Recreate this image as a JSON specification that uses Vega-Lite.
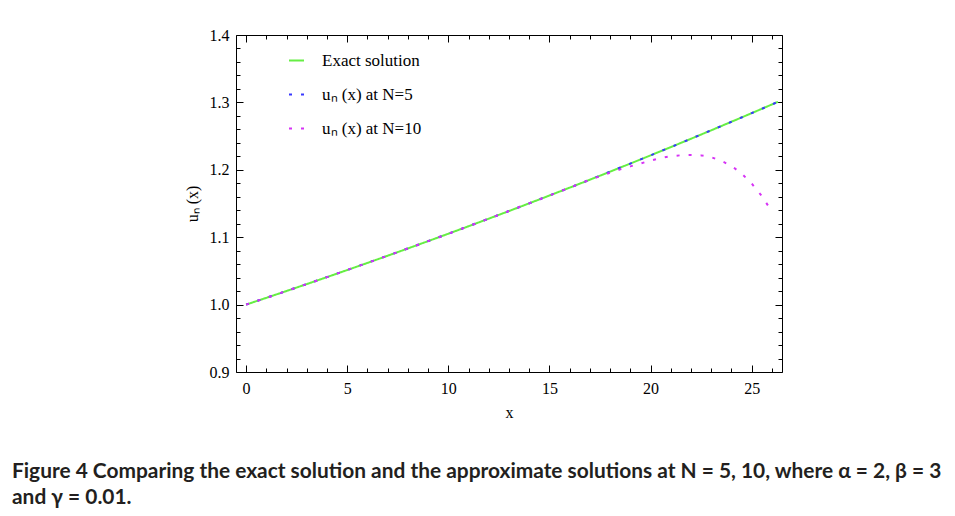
{
  "$schema": "https://vega.github.io/schema/vega-lite/v6.json",
  "width": 546,
  "height": 337,
  "autosize": {"type": "none"},
  "padding": {"left": 236, "top": 35, "right": 173, "bottom": 144},
  "background": "white",
  "config": {
    "view": {"stroke": null},
    "font": "Liberation Serif",
    "style": {
      "guide-label": {"font": "Liberation Serif"},
      "guide-title": {"font": "Liberation Serif"}
    },
    "title": {"font": "Lato", "fontSize": 20.9, "fontWeight": "bold", "color": "#231f20"},
    "axis": {
      "grid": false,
      "domainColor": "#000000",
      "tickColor": "#000000",
      "labelColor": "#000000",
      "titleColor": "#000000",
      "labelFont": "Liberation Serif",
      "titleFont": "Liberation Serif",
      "labelFontSize": 16,
      "titleFontSize": 16,
      "titleFontWeight": "normal",
      "labelFlush": false,
      "labelOverlap": false
    },
    "axisY": {"labelFont": "Liberation Serif", "titleFont": "Liberation Serif"},
    "axisLeft": {"labelFont": "Liberation Serif", "titleFont": "Liberation Serif"},
    "legend": {
      "orient": "none",
      "legendX": 52,
      "legendY": 17,
      "symbolType": "stroke",
      "symbolSize": 225,
      "symbolStrokeWidth": 2,
      "labelFont": "Liberation Serif",
      "labelFontSize": 17,
      "labelColor": "#000000",
      "labelOffset": 17,
      "rowPadding": 16,
      "padding": 0,
      "title": null
    }
  },
  "title": {
    "text": [
      "Figure 4  Comparing the exact solution and the approximate solutions at N = 5, 10, where α = 2, β = 3",
      "and γ = 0.01."
    ],
    "orient": "bottom",
    "anchor": "start",
    "frame": "group",
    "dx": -224,
    "offset": 41,
    "lineHeight": 26
  },
  "data": {
    "values": [
      {"x": 0, "u": 1.0, "series": "Exact solution"},
      {"x": 1, "u": 1.01005, "series": "Exact solution"},
      {"x": 2, "u": 1.0202, "series": "Exact solution"},
      {"x": 3, "u": 1.03045, "series": "Exact solution"},
      {"x": 4, "u": 1.04081, "series": "Exact solution"},
      {"x": 5, "u": 1.05127, "series": "Exact solution"},
      {"x": 6, "u": 1.06184, "series": "Exact solution"},
      {"x": 7, "u": 1.07251, "series": "Exact solution"},
      {"x": 8, "u": 1.08329, "series": "Exact solution"},
      {"x": 9, "u": 1.09417, "series": "Exact solution"},
      {"x": 10, "u": 1.10517, "series": "Exact solution"},
      {"x": 11, "u": 1.11628, "series": "Exact solution"},
      {"x": 12, "u": 1.1275, "series": "Exact solution"},
      {"x": 13, "u": 1.13883, "series": "Exact solution"},
      {"x": 14, "u": 1.15027, "series": "Exact solution"},
      {"x": 15, "u": 1.16183, "series": "Exact solution"},
      {"x": 16, "u": 1.17351, "series": "Exact solution"},
      {"x": 17, "u": 1.1853, "series": "Exact solution"},
      {"x": 18, "u": 1.19722, "series": "Exact solution"},
      {"x": 19, "u": 1.20925, "series": "Exact solution"},
      {"x": 20, "u": 1.2214, "series": "Exact solution"},
      {"x": 21, "u": 1.23368, "series": "Exact solution"},
      {"x": 22, "u": 1.24608, "series": "Exact solution"},
      {"x": 23, "u": 1.2586, "series": "Exact solution"},
      {"x": 24, "u": 1.27125, "series": "Exact solution"},
      {"x": 25, "u": 1.28403, "series": "Exact solution"},
      {"x": 26, "u": 1.29693, "series": "Exact solution"},
      {"x": 26.3, "u": 1.30084, "series": "Exact solution"},
      {"x": 0, "u": 1.0, "series": "uₙ (x) at N=5"},
      {"x": 1, "u": 1.01005, "series": "uₙ (x) at N=5"},
      {"x": 2, "u": 1.0202, "series": "uₙ (x) at N=5"},
      {"x": 3, "u": 1.03045, "series": "uₙ (x) at N=5"},
      {"x": 4, "u": 1.04081, "series": "uₙ (x) at N=5"},
      {"x": 5, "u": 1.05127, "series": "uₙ (x) at N=5"},
      {"x": 6, "u": 1.06184, "series": "uₙ (x) at N=5"},
      {"x": 7, "u": 1.07251, "series": "uₙ (x) at N=5"},
      {"x": 8, "u": 1.08329, "series": "uₙ (x) at N=5"},
      {"x": 9, "u": 1.09417, "series": "uₙ (x) at N=5"},
      {"x": 10, "u": 1.10517, "series": "uₙ (x) at N=5"},
      {"x": 11, "u": 1.11628, "series": "uₙ (x) at N=5"},
      {"x": 12, "u": 1.1275, "series": "uₙ (x) at N=5"},
      {"x": 13, "u": 1.13883, "series": "uₙ (x) at N=5"},
      {"x": 14, "u": 1.15027, "series": "uₙ (x) at N=5"},
      {"x": 15, "u": 1.16183, "series": "uₙ (x) at N=5"},
      {"x": 16, "u": 1.17351, "series": "uₙ (x) at N=5"},
      {"x": 17, "u": 1.1853, "series": "uₙ (x) at N=5"},
      {"x": 18, "u": 1.19722, "series": "uₙ (x) at N=5"},
      {"x": 19, "u": 1.20925, "series": "uₙ (x) at N=5"},
      {"x": 20, "u": 1.2214, "series": "uₙ (x) at N=5"},
      {"x": 21, "u": 1.23368, "series": "uₙ (x) at N=5"},
      {"x": 22, "u": 1.24608, "series": "uₙ (x) at N=5"},
      {"x": 23, "u": 1.2586, "series": "uₙ (x) at N=5"},
      {"x": 24, "u": 1.27125, "series": "uₙ (x) at N=5"},
      {"x": 25, "u": 1.28403, "series": "uₙ (x) at N=5"},
      {"x": 26, "u": 1.29693, "series": "uₙ (x) at N=5"},
      {"x": 26.3, "u": 1.30084, "series": "uₙ (x) at N=5"},
      {"x": 0, "u": 1.0, "series": "uₙ (x) at N=10"},
      {"x": 1, "u": 1.01005, "series": "uₙ (x) at N=10"},
      {"x": 2, "u": 1.0202, "series": "uₙ (x) at N=10"},
      {"x": 3, "u": 1.03045, "series": "uₙ (x) at N=10"},
      {"x": 4, "u": 1.04081, "series": "uₙ (x) at N=10"},
      {"x": 5, "u": 1.05127, "series": "uₙ (x) at N=10"},
      {"x": 6, "u": 1.06184, "series": "uₙ (x) at N=10"},
      {"x": 7, "u": 1.07251, "series": "uₙ (x) at N=10"},
      {"x": 8, "u": 1.08329, "series": "uₙ (x) at N=10"},
      {"x": 9, "u": 1.09417, "series": "uₙ (x) at N=10"},
      {"x": 10, "u": 1.10517, "series": "uₙ (x) at N=10"},
      {"x": 11, "u": 1.11628, "series": "uₙ (x) at N=10"},
      {"x": 12, "u": 1.1275, "series": "uₙ (x) at N=10"},
      {"x": 13, "u": 1.13883, "series": "uₙ (x) at N=10"},
      {"x": 14, "u": 1.15027, "series": "uₙ (x) at N=10"},
      {"x": 15, "u": 1.16183, "series": "uₙ (x) at N=10"},
      {"x": 16, "u": 1.17351, "series": "uₙ (x) at N=10"},
      {"x": 17, "u": 1.1853, "series": "uₙ (x) at N=10"},
      {"x": 18, "u": 1.1957, "series": "uₙ (x) at N=10"},
      {"x": 18.5, "u": 1.2006, "series": "uₙ (x) at N=10"},
      {"x": 19, "u": 1.2051, "series": "uₙ (x) at N=10"},
      {"x": 19.5, "u": 1.2094, "series": "uₙ (x) at N=10"},
      {"x": 20, "u": 1.2137, "series": "uₙ (x) at N=10"},
      {"x": 20.5, "u": 1.2174, "series": "uₙ (x) at N=10"},
      {"x": 21, "u": 1.2201, "series": "uₙ (x) at N=10"},
      {"x": 21.5, "u": 1.2216, "series": "uₙ (x) at N=10"},
      {"x": 22, "u": 1.222, "series": "uₙ (x) at N=10"},
      {"x": 22.5, "u": 1.2214, "series": "uₙ (x) at N=10"},
      {"x": 23, "u": 1.2186, "series": "uₙ (x) at N=10"},
      {"x": 23.5, "u": 1.2133, "series": "uₙ (x) at N=10"},
      {"x": 24, "u": 1.2058, "series": "uₙ (x) at N=10"},
      {"x": 24.5, "u": 1.1946, "series": "uₙ (x) at N=10"},
      {"x": 25, "u": 1.1796, "series": "uₙ (x) at N=10"},
      {"x": 25.5, "u": 1.1612, "series": "uₙ (x) at N=10"},
      {"x": 26, "u": 1.138, "series": "uₙ (x) at N=10"}
    ]
  },
  "layer": [
    {
      "transform": [{"filter": "datum.series === 'Exact solution'"}],
      "mark": {"type": "line", "strokeWidth": 2},
      "encoding": {
        "x": {
          "field": "x", "type": "quantitative",
          "scale": {"domain": [-0.5, 26.5], "nice": false, "zero": false},
          "axis": {
            "orient": "bottom",
            "values": [0,1,2,3,4,5,6,7,8,9,10,11,12,13,14,15,16,17,18,19,20,21,22,23,24,25,26],
            "format": "d",
            "labelExpr": "datum.value % 5 === 0 ? datum.label : ''",
            "tickSize": {"condition": {"test": "datum.value % 5 === 0", "value": -7}, "value": -4},
            "labelPadding": 15,
            "title": "x",
            "titlePadding": 5
          }
        },
        "y": {
          "field": "u", "type": "quantitative",
          "scale": {"domain": [0.9, 1.4], "nice": false, "zero": false},
          "axis": {
            "orient": "left",
            "values": [0.9,0.92,0.94,0.96,0.98,1.0,1.02,1.04,1.06,1.08,1.1,1.12,1.14,1.16,1.18,1.2,1.22,1.24,1.26,1.28,1.3,1.32,1.34,1.36,1.38,1.4],
            "format": ".1f",
            "labelExpr": "abs(datum.value * 10 - round(datum.value * 10)) < 0.001 ? datum.label : ''",
            "tickSize": {"condition": {"test": "abs(datum.value * 10 - round(datum.value * 10)) < 0.001", "value": -7}, "value": -4},
            "labelPadding": 14,
            "title": "uₙ (x)",
            "titlePadding": 9
          }
        },
        "color": {
          "field": "series", "type": "nominal",
          "scale": {"domain": ["Exact solution", "uₙ (x) at N=5", "uₙ (x) at N=10"], "range": ["#66ee44", "#3838ff", "#d633f5"]}
        },
        "strokeDash": {
          "field": "series", "type": "nominal",
          "scale": {"domain": ["Exact solution", "uₙ (x) at N=5", "uₙ (x) at N=10"], "range": [[1, 0], [3, 9], [3, 9]]}
        }
      }
    },
    {
      "transform": [{"filter": "datum.series !== 'Exact solution'"}],
      "mark": {"type": "line", "strokeWidth": 2},
      "encoding": {
        "x": {
          "field": "x", "type": "quantitative",
          "scale": {"domain": [-0.5, 26.5], "nice": false, "zero": false},
          "axis": {
            "orient": "top",
            "values": [0,1,2,3,4,5,6,7,8,9,10,11,12,13,14,15,16,17,18,19,20,21,22,23,24,25,26],
            "labels": false,
            "tickSize": {"condition": {"test": "datum.value % 5 === 0", "value": -7}, "value": -4},
            "title": null
          }
        },
        "y": {
          "field": "u", "type": "quantitative",
          "scale": {"domain": [0.9, 1.4], "nice": false, "zero": false},
          "axis": {
            "orient": "right",
            "values": [0.9,0.92,0.94,0.96,0.98,1.0,1.02,1.04,1.06,1.08,1.1,1.12,1.14,1.16,1.18,1.2,1.22,1.24,1.26,1.28,1.3,1.32,1.34,1.36,1.38,1.4],
            "labels": false,
            "tickSize": {"condition": {"test": "abs(datum.value * 10 - round(datum.value * 10)) < 0.001", "value": -7}, "value": -4},
            "title": null
          }
        },
        "color": {
          "field": "series", "type": "nominal",
          "scale": {"domain": ["Exact solution", "uₙ (x) at N=5", "uₙ (x) at N=10"], "range": ["#66ee44", "#3838ff", "#d633f5"]}
        },
        "strokeDash": {
          "field": "series", "type": "nominal",
          "scale": {"domain": ["Exact solution", "uₙ (x) at N=5", "uₙ (x) at N=10"], "range": [[1, 0], [3, 9], [3, 9]]}
        }
      }
    }
  ],
  "resolve": {"axis": {"x": "independent", "y": "independent"}}
}
